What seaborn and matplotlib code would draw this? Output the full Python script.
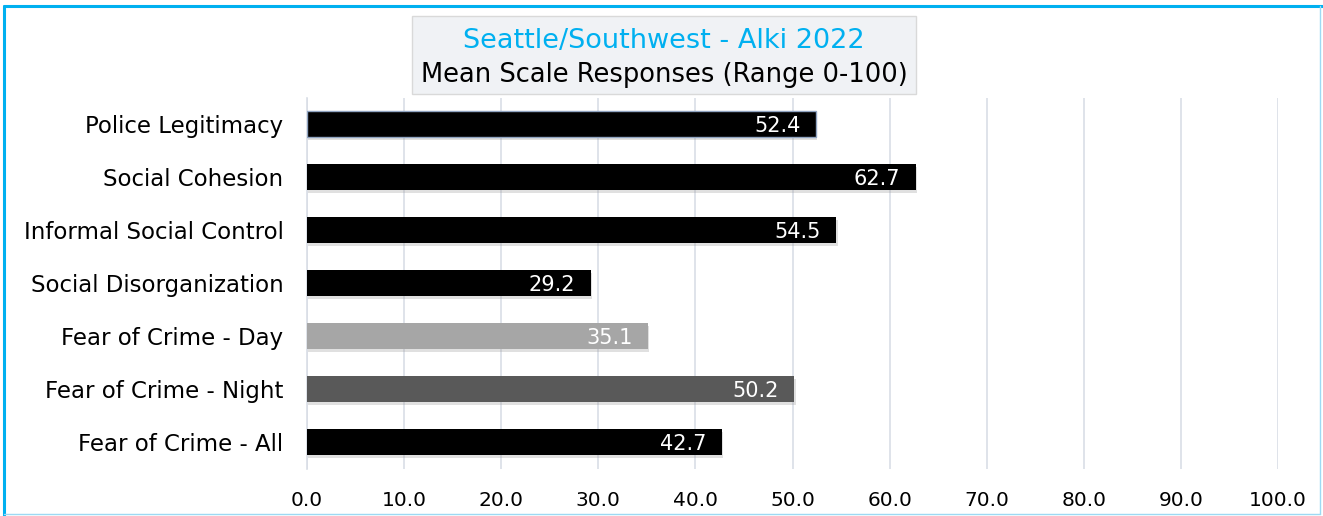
import matplotlib
matplotlib.use("Agg")
import matplotlib.pyplot as plt
import matplotlib.patheffects as pe
from matplotlib.patches import Rectangle
import seaborn as sns
import pandas as pd

categories = ["Police Legitimacy", "Social Cohesion", "Informal Social Control",
              "Social Disorganization", "Fear of Crime - Day", "Fear of Crime - Night",
              "Fear of Crime - All"]
values = [52.4, 62.7, 54.5, 29.2, 35.1, 50.2, 42.7]
colors = ["#000000", "#000000", "#000000", "#000000", "#A6A6A6", "#595959", "#000000"]
xticks = [0, 10, 20, 30, 40, 50, 60, 70, 80, 90, 100]
title1 = "Seattle/Southwest - Alki 2022"
title2 = "Mean Scale Responses (Range 0-100)"

sns.set_theme(style="white")
plt.rcParams["font.family"] = ["DejaVu Sans"]

W, H = 1323, 516
fig = plt.figure(figsize=(W / 100, H / 100), dpi=100)
ax = fig.add_axes([307 / W, 1 - 468.5 / H, (1278 - 307) / W, (468.5 - 97.5) / H])

df = pd.DataFrame({"cat": categories, "val": values})
sns.barplot(data=df, x="val", y="cat", hue="cat", palette=colors, legend=False,
            width=0.5, ax=ax, saturation=1, zorder=3)

for p in ax.patches:
    p.set_path_effects([pe.SimplePatchShadow(offset=(1.0, -2.0), shadow_rgbFace="#9A9A9A", alpha=0.3),
                        pe.Normal()])
    p.set_linewidth(0)
ax.patches[0].set_edgecolor("#8FA3C0")
ax.patches[0].set_linewidth(1.0)

for i, v in enumerate(values):
    ax.text(v - 1.6, i + 0.04, f"{v:.1f}", color="white", ha="right", va="center",
            fontsize=15, zorder=5)

ax.set_xlim(0, 100)
ax.set_ylim(6.5, -0.5)
ax.set_xticks(xticks)
ax.set_xticklabels([f"{t:.1f}" for t in xticks], fontsize=14.5, color="#000000")
ax.tick_params(axis="x", length=0, pad=16)
ax.tick_params(axis="y", length=0, pad=17, labelsize=16.5, labelcolor="#000000")
ax.set_xlabel("")
ax.set_ylabel("")
ax.xaxis.grid(True, color="#D9DEE6", linewidth=1.2, zorder=0)
ax.yaxis.grid(False)
for s in ["top", "right", "bottom"]:
    ax.spines[s].set_visible(False)
ax.spines["left"].set_color("#D9DEE6")
ax.spines["left"].set_linewidth(1.2)

# title box
fig.patches.append(Rectangle((412 / W, 1 - 94 / H), (916 - 412) / W, (94 - 16) / H,
                             transform=fig.transFigure, facecolor="#F0F2F5",
                             edgecolor="#D9D9D9", linewidth=1.0, zorder=5))
fig.text(664 / W, 1 - 41 / H, title1, color="#00B0F0", fontsize=19.5, ha="center", va="center", zorder=6)
fig.text(664 / W, 1 - 75 / H, title2, color="#000000", fontsize=18.5, ha="center", va="center", zorder=6)

# outer border
fig.add_artist(plt.Line2D([4 / W, 4 / W], [0, 1 - 6 / H], transform=fig.transFigure, color="#00B0F0", linewidth=2.2))
fig.add_artist(plt.Line2D([4 / W, 1], [1 - 6 / H, 1 - 6 / H], transform=fig.transFigure, color="#00B0F0", linewidth=2.2))
fig.add_artist(plt.Line2D([1320 / W, 1320 / W], [1 - 514 / H, 1 - 6 / H], transform=fig.transFigure, color="#9DD9F3", linewidth=1))
fig.add_artist(plt.Line2D([4 / W, 1320 / W], [1 - 514 / H, 1 - 514 / H], transform=fig.transFigure, color="#9DD9F3", linewidth=1))

fig.savefig("out.png", dpi=100)
